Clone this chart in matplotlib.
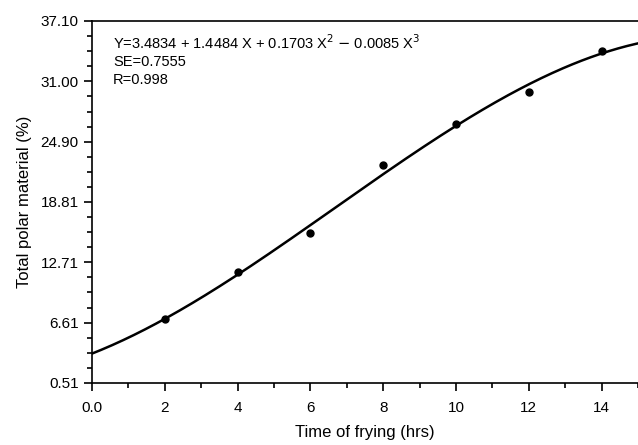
import numpy as np
import matplotlib
matplotlib.use("Agg")
import matplotlib.pyplot as plt
from matplotlib.ticker import MultipleLocator, FixedLocator

plt.rcParams['font.family'] = ['Liberation Sans', 'DejaVu Sans']

# Data
time_hrs = [2, 4, 6, 8, 10, 12, 14]
tpm = [6.95, 11.73, 15.7, 22.5, 26.7, 29.9, 34.1]
# Fitted cubic coefficients (from the equation shown)
coef = [3.4834, 1.4484, 0.1703, -0.0085]
yticks = [0.51, 6.61, 12.71, 18.81, 24.90, 31.00, 37.10]
xticks = [0, 2, 4, 6, 8, 10, 12, 14]
xticklabels = ['0.0', '2', '4', '6', '8', '10', '12', '14']

fig = plt.figure(figsize=(6.38, 4.45), dpi=100)
ax = fig.add_axes([92/638, 1-383/445, 1-92/638, (383-21)/445])

xf = np.linspace(0, 15, 300)
yf = coef[0] + coef[1]*xf + coef[2]*xf**2 + coef[3]*xf**3
ax.plot(xf, yf, color='black', lw=1.8)
ax.plot(time_hrs, tpm, 'o', color='black', ms=5)

ax.set_xlim(0, 15)
ax.set_ylim(0.51, 37.10)
ax.set_xticks(xticks)
ax.set_xticklabels(xticklabels)
ax.xaxis.set_minor_locator(MultipleLocator(1))
ax.set_yticks(yticks)
ax.set_yticklabels([f'{v:.2f}' for v in yticks])
minor_y = []
for i in range(len(yticks)-1):
    a, b = yticks[i], yticks[i+1]
    minor_y += [a + (b-a)/4, a + (b-a)/2, a + 3*(b-a)/4]
ax.yaxis.set_minor_locator(FixedLocator(minor_y))

ax.spines['right'].set_visible(False)
for s in ['left', 'bottom', 'top']:
    ax.spines[s].set_linewidth(1.2)
ax.tick_params(which='major', direction='out', length=6, width=1.2, labelsize=11)
ax.tick_params(axis='x', which='major', pad=7)
ax.tick_params(which='minor', direction='out', length=3.5, width=1.2)
ax.tick_params(top=False, right=False)

ax.set_xlabel('Time of frying (hrs)', fontsize=12, labelpad=7)
ax.set_ylabel('Total polar material (%)', fontsize=12, labelpad=6)

ax.text(0.58, 34.9, r'Y=3.4834 + 1.4484 X + 0.1703 X$^2$ $-$ 0.0085 X$^3$', fontsize=10.5, va='center')
ax.text(0.58, 33.0, 'SE=0.7555', fontsize=10.5, va='center')
ax.text(0.58, 31.15, 'R=0.998', fontsize=10.5, va='center')

fig.savefig('out.png', dpi=100)
